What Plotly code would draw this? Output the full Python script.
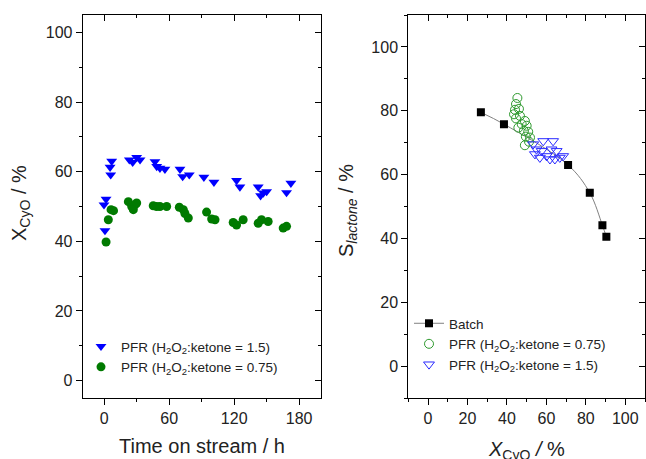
import plotly.graph_objects as go

# ---------------- data ----------------
# Left panel: conversion vs time on stream
t_r15 = [1.6, -0.3, 0.6, 6.8, 5.3, 5.9, 23.1, 26.2, 29.9, 33.0, 46.8, 48.4, 51.4, 56.0,
         69.9, 72.4, 78.5, 92.0, 101.3, 122.2, 125.3, 142.2, 144.4, 150.0, 147.0, 168.4, 172.4]
x_r15 = [52.1, 50.5, 43.1, 63.0, 61.3, 59.1, 63.4, 62.7, 64.1, 63.4, 62.9, 61.5, 61.0, 60.7,
         60.7, 58.6, 59.1, 58.4, 57.0, 57.5, 55.6, 55.6, 53.1, 54.3, 53.9, 54.0, 56.7]

t_r075 = [1.6, 3.7, 6.2, 8.5, 22.2, 25.3, 28.4, 29.9, 26.8, 45.2, 48.3, 51.4, 57.6,
          69.3, 73.0, 74.5, 77.6, 94.5, 99.2, 102.3, 119.1, 122.2, 128.3, 142.2, 145.3, 151.4,
          165.3, 168.4]
x_r075 = [39.8, 46.2, 49.1, 48.8, 51.4, 50.0, 50.5, 51.0, 49.1, 50.2, 50.0, 50.0, 50.0,
          49.8, 49.1, 48.0, 46.7, 48.4, 46.4, 46.2, 45.4, 44.7, 46.2, 45.2, 46.2, 45.7,
          43.8, 44.3]

# Right panel: selectivity vs conversion
batch_x = [26.8, 38.5, 71.0, 82.0, 88.4, 90.4]
batch_s = [79.5, 75.8, 63.0, 54.3, 44.1, 40.5]

pfr075_x = [45.3, 44.6, 44.1, 46.1, 43.6, 46.6, 44.6, 49.1, 47.5, 50.0, 45.8, 48.6, 50.8,
            49.6, 51.7, 49.1, 51.2]
pfr075_s = [84.0, 82.1, 80.3, 80.6, 78.9, 78.4, 77.6, 76.8, 75.8, 75.3, 74.7, 73.7, 73.4,
            71.9, 71.6, 69.2, 70.3]

pfr15_x = [53.3, 55.0, 54.2, 58.4, 63.4, 57.6, 60.1, 62.6, 65.2, 64.3, 66.8, 68.5, 56.7, 61.8]
pfr15_s = [69.5, 67.9, 66.4, 70.5, 70.5, 67.4, 65.8, 67.9, 67.4, 64.8, 65.3, 65.8, 65.3, 64.8]

left_xticks = [0, 60, 120, 180]
left_yticks = [0, 20, 40, 60, 80, 100]
right_ticks = [0, 20, 40, 60, 80, 100]

# ---------------- styling ----------------
FONT = "Liberation Sans, Arial, sans-serif"
TXT = "#222222"
W, H = 646, 459
MT, MB = 15, 61
dom_l = [0.128, 0.4965]
dom_r = [0.632, 0.9985]

fig = go.Figure()

fig.add_trace(go.Scatter(
    x=t_r15, y=x_r15, mode="markers", xaxis="x", yaxis="y",
    name="PFR (H<sub>2</sub>O<sub>2</sub>:ketone = 1.5)",
    marker=dict(symbol="triangle-down", size=9.5, color="#0000ff", line=dict(width=0)),
    legend="legend"))
fig.add_trace(go.Scatter(
    x=t_r075, y=x_r075, mode="markers", xaxis="x", yaxis="y",
    name="PFR (H<sub>2</sub>O<sub>2</sub>:ketone = 0.75)",
    marker=dict(symbol="circle", size=9, color="#007a00", line=dict(width=0)),
    legend="legend"))

fig.add_trace(go.Scatter(
    x=batch_x, y=batch_s, mode="lines+markers", xaxis="x2", yaxis="y2",
    name="Batch", line=dict(color="#808080", width=1, shape="spline"),
    marker=dict(symbol="square", size=8, color="#000000"),
    legend="legend2"))
fig.add_trace(go.Scatter(
    x=pfr075_x, y=pfr075_s, mode="markers", xaxis="x2", yaxis="y2",
    name="PFR (H<sub>2</sub>O<sub>2</sub>:ketone = 0.75)",
    marker=dict(symbol="circle-open", size=9, color="#2f9a2f", line=dict(width=1)),
    legend="legend2"))
fig.add_trace(go.Scatter(
    x=pfr15_x, y=pfr15_s, mode="markers", xaxis="x2", yaxis="y2",
    name="PFR (H<sub>2</sub>O<sub>2</sub>:ketone = 1.5)",
    marker=dict(symbol="triangle-down-open", size=9.5, color="#2a2aff", line=dict(width=1)),
    legend="legend2"))

# dummy traces to create overlay (mirror) axes with inside ticks
fig.add_trace(go.Scatter(x=[], y=[], xaxis="x3", yaxis="y3", showlegend=False, hoverinfo="skip"))
fig.add_trace(go.Scatter(x=[], y=[], xaxis="x4", yaxis="y4", showlegend=False, hoverinfo="skip"))

tickfont = dict(family=FONT, size=16, color=TXT)

def main_axis(**kw):
    d = dict(showgrid=False, zeroline=False, showline=True, linecolor="#000000", linewidth=1,
             mirror=True, ticks="outside", ticklen=6, tickcolor="#000000", tickwidth=1,
             tickfont=tickfont)
    d.update(kw)
    return d

def mirror_axis(**kw):
    d = dict(showgrid=False, zeroline=False, showline=False, ticks="inside", ticklen=6,
             tickcolor="#000000", tickwidth=1, showticklabels=False)
    d.update(kw)
    return d

ph = H - MT - MB
def py(pix):
    return 1 - (pix - MT) / ph

fig.update_layout(
    width=W, height=H,
    margin=dict(l=0, r=0, t=MT, b=MB),
    paper_bgcolor="white", plot_bgcolor="white",
    font=dict(family=FONT, color=TXT),
    xaxis=main_axis(domain=dom_l, range=[-20, 200], tickvals=left_xticks, anchor="y",
                    minor=dict(ticks="outside", ticklen=3, dtick=30, tick0=0, tickcolor="#000000")),
    yaxis=main_axis(domain=[0, 1], range=[-5, 105], tickvals=left_yticks, anchor="x",
                    minor=dict(ticks="outside", ticklen=3, dtick=10, tick0=0, tickcolor="#000000")),
    xaxis3=mirror_axis(domain=dom_l, range=[-20, 200], tickvals=left_xticks, overlaying="x",
                       side="top", anchor="y3",
                       minor=dict(ticks="inside", ticklen=3, dtick=30, tick0=0, tickcolor="#000000")),
    yaxis3=mirror_axis(domain=[0, 1], range=[-5, 105], tickvals=left_yticks, overlaying="y",
                       side="right", anchor="x3",
                       minor=dict(ticks="inside", ticklen=3, dtick=10, tick0=0, tickcolor="#000000")),
    xaxis2=main_axis(domain=dom_r, range=[-10, 110], tickvals=right_ticks, anchor="y2",
                     minor=dict(ticks="outside", ticklen=3, dtick=10, tick0=0, tickcolor="#000000")),
    yaxis2=main_axis(domain=[0, 1], range=[-10, 110], tickvals=right_ticks, anchor="x2",
                     minor=dict(ticks="outside", ticklen=3, dtick=10, tick0=0, tickcolor="#000000")),
    xaxis4=mirror_axis(domain=dom_r, range=[-10, 110], tickvals=right_ticks, overlaying="x2",
                       side="top", anchor="y4",
                       minor=dict(ticks="inside", ticklen=3, dtick=10, tick0=0, tickcolor="#000000")),
    yaxis4=mirror_axis(domain=[0, 1], range=[-10, 110], tickvals=right_ticks, overlaying="y2",
                       side="right", anchor="x4",
                       minor=dict(ticks="inside", ticklen=3, dtick=10, tick0=0, tickcolor="#000000")),
    legend=dict(x=81 / W, y=py(331), xanchor="left", yanchor="top",
                bgcolor="rgba(0,0,0,0)", font=dict(family=FONT, size=13.5, color=TXT),
                tracegroupgap=0, itemwidth=30),
    legend2=dict(x=409 / W, y=py(308), xanchor="left", yanchor="top",
                 bgcolor="rgba(0,0,0,0)", font=dict(family=FONT, size=13.5, color=TXT),
                 tracegroupgap=0, itemwidth=30),
    showlegend=True,
)

title_font = dict(family=FONT, size=20, color=TXT)
fig.add_annotation(text="Time on stream / h", xref="paper", yref="paper",
                   x=(dom_l[0] + dom_l[1]) / 2, y=py(446), xanchor="center", yanchor="middle",
                   showarrow=False, font=title_font)
fig.add_annotation(text="X<sub>CyO</sub> / %", xref="paper", yref="paper",
                   x=20 / W, y=py(203), xanchor="center", yanchor="middle", textangle=-90,
                   showarrow=False, font=title_font)
fig.add_annotation(text="<i>X</i><sub>CyO</sub> <i>/</i> %", xref="paper", yref="paper",
                   x=(dom_r[0] + dom_r[1]) / 2, y=py(451), xanchor="center", yanchor="middle",
                   showarrow=False, font=title_font)
fig.add_annotation(text="S<sub><i>lactone</i></sub> / %", xref="paper", yref="paper",
                   x=347 / W, y=py(211), xanchor="center", yanchor="middle", textangle=-90,
                   showarrow=False, font=title_font)

fig.write_html("out.html")
